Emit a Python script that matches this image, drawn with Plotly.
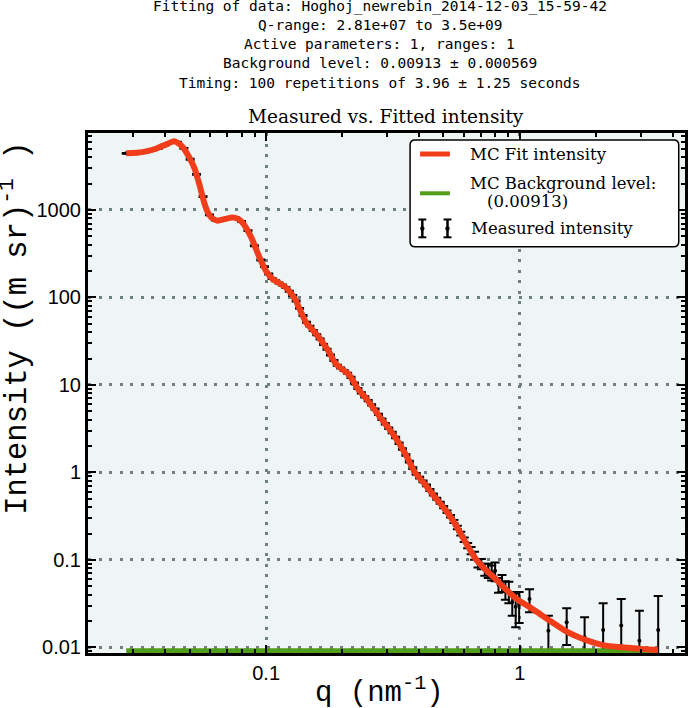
import plotly.graph_objects as go

# ---------------- data ----------------
fit_q = [0.0281, 0.031, 0.034, 0.037, 0.040, 0.0435, 0.0465, 0.0486, 0.0505, 0.0522,
         0.0546, 0.0571, 0.0590, 0.0608, 0.0643, 0.069, 0.0736, 0.0775, 0.0806, 0.0873,
         0.094, 0.1, 0.1056, 0.1125, 0.1197, 0.1265, 0.131, 0.1346, 0.1436, 0.152,
         0.1615, 0.1767, 0.188, 0.2, 0.2115, 0.2316, 0.25, 0.2775, 0.304, 0.3236,
         0.355, 0.386, 0.42, 0.463, 0.51, 0.555, 0.61, 0.674, 0.73, 0.796,
         0.88, 0.982, 1.09, 1.2, 1.3, 1.53, 1.8, 2.13, 2.51, 3.0, 3.5]
fit_I = [4450, 4500, 4700, 5050, 5550, 6100, 5400, 4500, 3700, 3000,
         1950, 1200, 930, 820, 755, 790, 820, 790, 720, 490,
         290, 200, 165, 146, 130, 108, 92, 77, 52, 43,
         35, 24, 17.5, 15, 13.3, 8.8, 6.8, 4.5, 3.2, 2.5,
         1.6, 1.0, 0.75, 0.52, 0.37, 0.26, 0.16, 0.10, 0.078, 0.062,
         0.046, 0.035, 0.029, 0.024, 0.0205, 0.0151, 0.0123, 0.0106, 0.0100, 0.0096, 0.0093]

meas_q = [0.0281, 0.0298, 0.0316, 0.0335, 0.0355, 0.0376, 0.0398, 0.0422, 0.0447, 0.0474,
          0.0502, 0.0532, 0.0564, 0.0598, 0.0634, 0.0672, 0.0712, 0.0755, 0.0800, 0.0848,
          0.0899, 0.0953, 0.0985, 0.1024, 0.1056, 0.109, 0.1124, 0.116, 0.1196, 0.1234,
          0.1273, 0.1313, 0.1355, 0.1398, 0.1442, 0.1487, 0.1534, 0.1583, 0.1633, 0.1685,
          0.1738, 0.1793, 0.185, 0.1908, 0.1968, 0.2031, 0.2095, 0.2161, 0.2229, 0.23,
          0.2373, 0.2448, 0.2525, 0.2605, 0.2687, 0.2772, 0.286, 0.295, 0.3044, 0.314,
          0.3239, 0.3342, 0.3447, 0.3556, 0.3669, 0.3785, 0.3904, 0.4028, 0.4155, 0.4287,
          0.4422, 0.4562, 0.4706, 0.4855, 0.5009, 0.5167, 0.533, 0.5499, 0.5673, 0.5852,
          0.6037, 0.6228, 0.6425, 0.6628, 0.6838, 0.7054, 0.7277, 0.7508, 0.7745, 0.799,
          0.8243, 0.8504, 0.8773, 0.905, 0.9337, 0.9632, 0.9937,
          1.092, 1.296, 1.53, 1.80, 2.13, 2.51, 2.96, 3.51]
meas_I = [4450, 4470, 4520, 4620, 4800, 5050, 5500, 5900, 5950, 5050,
          3800, 2550, 1420, 880, 760, 770, 815, 815, 740, 580,
          390, 268, 225, 185, 165, 155, 146, 139, 130, 118,
          105, 91, 75, 62, 52, 47, 42, 37.5, 33.5, 29,
          25.5, 22, 19, 16.8, 15.6, 14.6, 13.6, 12.2, 10.5, 9.1,
          8.1, 7.3, 6.6, 5.9, 5.3, 4.6, 4.05, 3.6, 3.2, 2.85,
          2.5, 2.15, 1.85, 1.58, 1.33, 1.12, 0.96, 0.87, 0.79, 0.71,
          0.63, 0.56, 0.50, 0.45, 0.40, 0.355, 0.315, 0.275, 0.235, 0.20,
          0.170, 0.146, 0.128, 0.112, 0.092, 0.090, 0.078, 0.076, 0.072, 0.075,
          0.052, 0.055, 0.046, 0.044, 0.033, 0.029, 0.031,
          0.0357, 0.0155, 0.0193, 0.0130, 0.0158, 0.0177, 0.0119, 0.0158]
meas_err = [45, 45, 45, 45, 50, 50, 55, 60, 60, 50,
            40, 25, 15, 9, 8, 8, 8, 8, 8, 6,
            4, 3, 2.5, 2.2, 2.0, 1.9, 1.8, 1.7, 1.6, 1.5,
            1.3, 1.1, 0.9, 0.8, 0.7, 0.6, 0.55, 0.5, 0.45, 0.4,
            0.35, 0.3, 0.27, 0.24, 0.22, 0.21, 0.2, 0.18, 0.16, 0.14,
            0.13, 0.12, 0.11, 0.1, 0.09, 0.08, 0.07, 0.065, 0.06, 0.055,
            0.05, 0.045, 0.04, 0.035, 0.03, 0.026, 0.023, 0.021, 0.019, 0.017,
            0.016, 0.015, 0.014, 0.013, 0.012, 0.011, 0.011, 0.011, 0.011, 0.010,
            0.010, 0.010, 0.012, 0.012, 0.010, 0.012, 0.012, 0.014, 0.014, 0.018,
            0.010, 0.012, 0.011, 0.012, 0.010, 0.012, 0.012,
            0.0105, 0.0075, 0.0087, 0.0090, 0.0160, 0.0180, 0.0143, 0.0228]

bkg_q = [0.0281, 3.5]
bkg_I = [0.00913, 0.00913]

x_tickvals = [0.1, 1]
x_ticktext = ["0.1", "1"]
y_tickvals = [0.01, 0.1, 1, 10, 100, 1000]
y_ticktext = ["0.01", "0.1", "1", "10", "100", "1000"]

title_lines = [
    "Fitting of data: Hoghoj_newrebin_2014-12-03_15-59-42",
    "Q-range: 2.81e+07 to 3.5e+09",
    "Active parameters: 1, ranges: 1",
    "Background level: 0.00913 ± 0.000569",
    "Timing: 100 repetitions of 3.96 ± 1.25 seconds",
]
plot_title = "Measured vs. Fitted intensity"
legend_labels = ["MC Fit intensity", "MC Background level:", "(0.00913)", "Measured intensity"]
x_label = "q (nm<sup>-1</sup>)"
y_label = "Intensity ((m sr)<sup>-1</sup> )"

# ---------------- styling / layout ----------------
W, H = 692, 708
L, R, T, B = 88, 4, 133, 55
PW, PH = W - L - R, H - T - B
RED = "#f23d1b"
GREEN = "#4f9d18"
GRIDC = "#6f8080"
MONO = "DejaVu Sans Mono"
SERIF = "DejaVu Serif"
SANS = "Liberation Sans"
COURIER = "Liberation Mono"


def px(x):
    return (x - L) / PW


def py(y):
    return (H - B - y) / PH


fig = go.Figure()
fig.add_trace(go.Scatter(
    x=meas_q, y=meas_I, mode="markers",
    marker=dict(color="black", size=4),
    error_y=dict(type="data", array=meas_err, visible=True,
                 color="black", thickness=2, width=4.5),
    showlegend=False, hoverinfo="skip"))
fig.add_trace(go.Scatter(
    x=bkg_q, y=bkg_I, mode="lines",
    line=dict(color=GREEN, width=5), showlegend=False))
fig.add_trace(go.Scatter(
    x=fit_q, y=fit_I, mode="lines",
    line=dict(color=RED, width=6, shape="spline", smoothing=0.6),
    showlegend=False))

axis_common = dict(
    type="log", showline=True, linewidth=3, linecolor="black", mirror="ticks",
    ticks="inside", ticklen=8, tickwidth=2, tickcolor="black",
    showgrid=True, gridcolor=GRIDC, gridwidth=2.5, griddash="3px,7.5px",
    zeroline=False, tickfont=dict(family=SANS, size=20, color="black"),
    minor=dict(ticks="inside", ticklen=4, tickwidth=1.5, tickcolor="black",
               dtick="D1", showgrid=False),
)
fig.update_xaxes(range=[-1.702, 0.651], tickmode="array",
                 tickvals=x_tickvals, ticktext=x_ticktext, **axis_common)
fig.update_yaxes(range=[-2.065, 3.88], tickmode="array",
                 tickvals=y_tickvals, ticktext=y_ticktext, **axis_common)

annotations = []
line_y = [6.5, 25, 44.3, 63.3, 82.7]
for txt, yy in zip(title_lines, line_y):
    annotations.append(dict(text=txt, x=px(381), y=py(yy), xref="paper", yref="paper",
                            xanchor="center", yanchor="middle", showarrow=False,
                            font=dict(family=MONO, size=14.5, color="black")))
annotations.append(dict(text=plot_title, x=px(387.5), y=py(116.5), xref="paper", yref="paper",
                        xanchor="center", yanchor="middle", showarrow=False,
                        font=dict(family=SERIF, size=18.5, color="black")))
annotations.append(dict(text=x_label, x=px(381), y=py(691), xref="paper", yref="paper",
                        xanchor="center", yanchor="middle", showarrow=False,
                        font=dict(family=COURIER, size=29, color="black")))
annotations.append(dict(text=y_label, x=px(14), y=py(328.5), xref="paper", yref="paper",
                        xanchor="center", yanchor="middle", showarrow=False, textangle=-90,
                        font=dict(family=COURIER, size=30.5, color="black")))

# legend (drawn by hand to reproduce matplotlib-style error-bar handles)
leg_font = dict(family=SERIF, size=16.5, color="black")
leg_pos = [(470, 155), (470, 183.3), (487, 201.7), (470.5, 228.3)]
for txt, (lx, ly) in zip(legend_labels, leg_pos):
    annotations.append(dict(text=txt, x=px(lx), y=py(ly), xref="paper", yref="paper",
                            xanchor="left", yanchor="middle", showarrow=False, font=leg_font))

shapes = []
bx0, bx1, by0, by1, rr = 411.7, 681.7, 140, 246.7, 5
path = (f"M {px(bx0 + rr)},{py(by0)} L {px(bx1 - rr)},{py(by0)} "
        f"Q {px(bx1)},{py(by0)} {px(bx1)},{py(by0 + rr)} "
        f"L {px(bx1)},{py(by1 - rr)} Q {px(bx1)},{py(by1)} {px(bx1 - rr)},{py(by1)} "
        f"L {px(bx0 + rr)},{py(by1)} Q {px(bx0)},{py(by1)} {px(bx0)},{py(by1 - rr)} "
        f"L {px(bx0)},{py(by0 + rr)} Q {px(bx0)},{py(by0)} {px(bx0 + rr)},{py(by0)} Z")
shapes.append(dict(type="path", path=path, xref="paper", yref="paper", layer="above",
                   fillcolor="white", line=dict(color="black", width=1.5)))
shapes.append(dict(type="line", xref="paper", yref="paper", layer="above",
                   x0=px(421.7), x1=px(451.7), y0=py(154), y1=py(154),
                   line=dict(color=RED, width=5)))
shapes.append(dict(type="line", xref="paper", yref="paper", layer="above",
                   x0=px(421.7), x1=px(451.7), y0=py(193.3), y1=py(193.3),
                   line=dict(color=GREEN, width=4)))
for ex in (424, 449.3):
    shapes.append(dict(type="line", xref="paper", yref="paper", layer="above",
                       x0=px(ex), x1=px(ex), y0=py(219.5), y1=py(237.3),
                       line=dict(color="black", width=2.5)))
    for ey in (219.5, 237.3):
        shapes.append(dict(type="line", xref="paper", yref="paper", layer="above",
                           x0=px(ex - 4), x1=px(ex + 4), y0=py(ey), y1=py(ey),
                           line=dict(color="black", width=2)))
    shapes.append(dict(type="circle", xref="paper", yref="paper", layer="above",
                       x0=px(ex - 2.2), x1=px(ex + 2.2), y0=py(228.4 - 2.2), y1=py(228.4 + 2.2),
                       fillcolor="black", line=dict(color="black", width=0)))

fig.update_layout(
    width=W, height=H, autosize=False,
    margin=dict(l=L, r=R, t=T, b=B, pad=0),
    paper_bgcolor="white", plot_bgcolor="#eff4f5",
    showlegend=False, annotations=annotations, shapes=shapes,
)

# remove the browser's default page margin so the figure sits at the window origin
fig.write_html("out.html",
               config={"displayModeBar": False},
               post_script="document.body.style.margin='0px';"
                           "document.body.style.overflow='hidden';")
